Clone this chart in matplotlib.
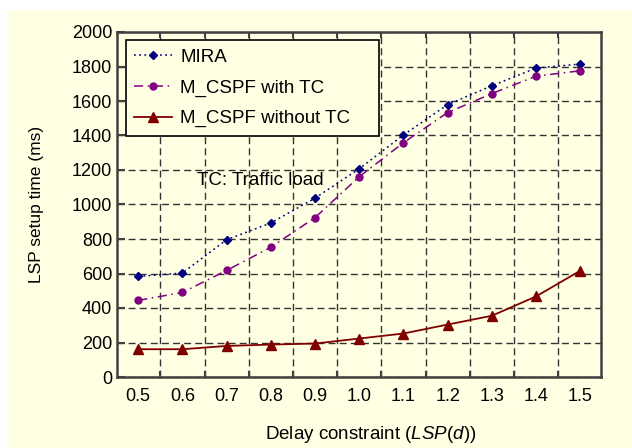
import numpy as np
import matplotlib.pyplot as plt
from matplotlib.patches import Rectangle

# datos
retardo = [0.5, 0.6, 0.7, 0.8, 0.9, 1.0, 1.1, 1.2, 1.3, 1.4, 1.5]
etiquetas = ["0.5", "0.6", "0.7", "0.8", "0.9", "1.0", "1.1", "1.2", "1.3", "1.4", "1.5"]
mira = [583, 603, 796, 893, 1037, 1207, 1403, 1579, 1688, 1791, 1814]
cspf_con_tc = [444, 490, 618, 752, 924, 1161, 1358, 1533, 1643, 1744, 1775]
cspf_sin_tc = [161, 161, 180, 188, 194, 223, 252, 304, 355, 467, 616]
rejilla_x = [0.55, 0.65, 0.75, 0.85, 0.95, 1.05, 1.15, 1.25, 1.35, 1.45]

fondo = "#ffffe3"
plt.rcParams["font.family"] = ["Liberation Sans", "DejaVu Sans"]
plt.rcParams["mathtext.fontset"] = "custom"
plt.rcParams["mathtext.it"] = "Liberation Sans:italic"
plt.rcParams["mathtext.rm"] = "Liberation Sans"

fig = plt.figure(figsize=(6.32, 4.48), dpi=100, facecolor="white")
# fondo amarillo con un margen blanco arriba y a la izquierda
fig.patches.append(Rectangle((7 / 632, 0), 1, 438 / 448, transform=fig.transFigure,
                             facecolor=fondo, edgecolor="none", zorder=-1))
ax = fig.add_axes([117 / 632, 1 - 377 / 448, 484 / 632, 345 / 448])
ax.set_facecolor(fondo)

ax.plot(retardo, mira, linestyle=(0, (1.2, 2.2)), color="#00007f", linewidth=1.1,
        marker="D", markersize=4.5, label="MIRA")
ax.plot(retardo, cspf_con_tc, linestyle=(0, (6, 3, 1, 3)), color="#800080", linewidth=1.1,
        marker="o", markersize=5, label="M_CSPF with TC")
ax.plot(retardo, cspf_sin_tc, linestyle="-", color="#800000", linewidth=1.3,
        marker="^", markersize=6.5, label="M_CSPF without TC")

ax.set_xlim(0.452, 1.547)
ax.set_ylim(0, 2000)
ax.set_yticks(np.arange(0, 2001, 200))
ax.set_xticks(rejilla_x)
ax.set_xticklabels([])
ax.set_xticks(retardo, minor=True)
ax.set_xticklabels(etiquetas, minor=True)
ax.tick_params(axis="x", which="minor", length=0, labelsize=13, pad=8)
ax.tick_params(axis="x", which="major", direction="in", length=4, width=1.5,
               top=True, color="#404040")
ax.tick_params(axis="y", direction="in", length=6, width=1.5, labelsize=13,
               right=False, color="#404040")

ax.grid(True, which="major", linestyle=(0, (5, 3)), color="#333333", linewidth=1)
for lado in ax.spines.values():
    lado.set_color("#404040")
    lado.set_linewidth(1.8)

ax.text(0.777, 1140, "TC: Traffic load", fontsize=13.5, ha="center", va="center")

ax.set_ylabel("LSP setup time (ms)", fontsize=12.5, labelpad=20)
ax.set_xlabel("Delay constraint ($\\mathit{LSP}$($\\mathit{d}$))", fontsize=13.5, labelpad=10)
ax.xaxis.set_label_coords((371 - 117) / 484, -0.135)

leg = ax.legend(loc="upper left", bbox_to_anchor=(0.0186, 0.5, 0.523, 0.476),
                mode="expand", fontsize=13.5,
                frameon=True, fancybox=False, edgecolor="black", facecolor=fondo,
                framealpha=1, handlelength=2.0, borderpad=0.45, labelspacing=0.72,
                handletextpad=0.45, borderaxespad=0)
leg.get_frame().set_linewidth(1.2)

plt.savefig("out.png", dpi=100, facecolor="white")
